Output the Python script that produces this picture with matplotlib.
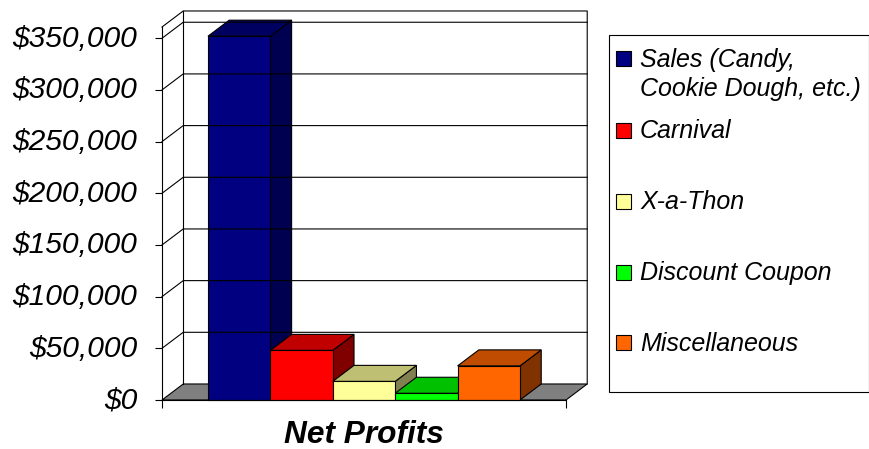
import matplotlib
matplotlib.use('Agg')
import matplotlib.pyplot as plt
from matplotlib.patches import Rectangle
from matplotlib.transforms import ScaledTranslation

plt.rcParams['font.family'] = ['Liberation Sans', 'DejaVu Sans']

names = ['Sales (Candy,\nCookie Dough, etc.)', 'Carnival', 'X-a-Thon', 'Discount Coupon', 'Miscellaneous']
values = [352000, 48000, 18000, 6500, 33000]
front_colors = ['#000080', '#ff0000', '#ffff99', '#00ff00', '#ff6600']
top_colors = ['#000060', '#c00000', '#bfbf73', '#00c000', '#bf4c00']
side_colors = ['#000050', '#800000', '#808050', '#008000', '#803300']
yticks = [0, 50000, 100000, 150000, 200000, 250000, 300000, 350000]

# depth of the fake 3d box, in data units
dx = 0.34
dy = 15500
lw = 0.8

W, H = 870, 449
fig = plt.figure(figsize=(W / 100, H / 100), dpi=100)
ax = fig.add_axes([162 / W, (H - 400) / H, 404 / W, 373 / H])
ax.set_xlim(-0.737, 5.737)
ax.set_ylim(0, 360900)
x0, x1 = ax.get_xlim()
ytop = ax.get_ylim()[1]
ax.patch.set_visible(False)

for s in ['top', 'right']:
    ax.spines[s].set_visible(False)
for s in ['left', 'bottom']:
    ax.spines[s].set_linewidth(lw)

# floor
ax.fill([x0, x1, x1 + dx, x0 + dx], [0, 0, dy, dy], facecolor='#808080', edgecolor='black', lw=lw, clip_on=False)

# back wall and grid
for v in yticks[1:]:
    ax.plot([x0, x0 + dx, x1 + dx], [v, v + dy, v + dy], color='black', lw=lw, clip_on=False)
ax.plot([x0, x0 + dx, x1 + dx, x1 + dx], [ytop, ytop + dy, ytop + dy, dy], color='black', lw=lw, clip_on=False)
ax.plot([x0 + dx, x0 + dx], [dy, ytop + dy], color='black', lw=lw, clip_on=False)

# bars, left to right so each one covers the side of the last
for i, v in enumerate(values):
    ax.fill([i + 1, i + 1 + dx, i + 1 + dx, i + 1], [0, dy, v + dy, v], facecolor=side_colors[i], edgecolor='black', lw=lw, clip_on=False)
    ax.fill([i, i + dx, i + 1 + dx, i + 1], [v, v + dy, v + dy, v], facecolor=top_colors[i], edgecolor='black', lw=lw, clip_on=False)
    ax.bar(i, v, width=1, align='edge', color=front_colors[i], edgecolor='black', lw=lw, clip_on=False)

ax.set_yticks(yticks)
ax.set_yticklabels(['${:,}'.format(v) for v in yticks], fontsize=21.6, style='italic')
ax.tick_params(axis='y', length=5, width=lw, pad=13)
nudge = ScaledTranslation(0, 1.8 / 72, fig.dpi_scale_trans)
for lab in ax.get_yticklabels():
    lab.set_transform(lab.get_transform() + nudge)
ax.set_xticks([x0, x1])
ax.set_xticklabels([])
ax.tick_params(axis='x', length=6, width=lw)
ax.set_xlabel('Net Profits', fontsize=22.8, fontweight='bold', style='italic', labelpad=5)

# legend box, spacing in the original is uneven so it is laid out by hand
leg = fig.add_axes([0, 0, 1, 1])
leg.set_xlim(0, W)
leg.set_ylim(H, 0)
leg.axis('off')
leg.add_patch(Rectangle((609, 34.5), 260, 357.5, facecolor='white', edgecolor='black', lw=lw))
rows = [58, 130, 201, 272, 342]
text_rows = [58, 130, 201, 272, 343]
for name, c, y, ty in zip(names, front_colors, rows, text_rows):
    leg.add_patch(Rectangle((616.5, y - 7.5), 15, 15, facecolor=c, edgecolor='black', lw=lw))
    if '\n' in name:
        leg.text(640, ty - 10, name, fontsize=18, style='italic', va='top', linespacing=1.25)
    else:
        leg.text(640, ty + 1, name, fontsize=18, style='italic', va='center')

fig.savefig('out.png', dpi=100)
